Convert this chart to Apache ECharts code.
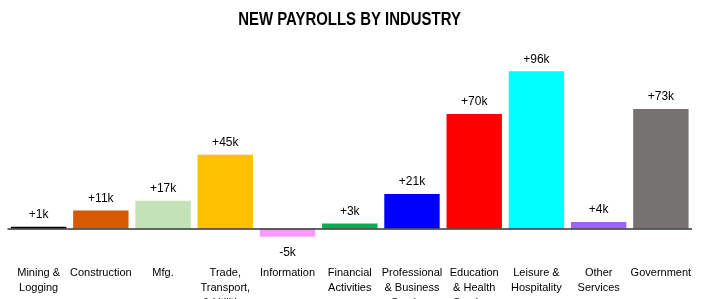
<!DOCTYPE html>
<html>
<head>
<meta charset="utf-8">
<script src="https://cdn.jsdelivr.net/npm/echarts@6/dist/echarts.min.js"></script>
<style>html,body{margin:0;padding:0;background:#fff}#c{width:718px;height:299px}</style>
</head>
<body>
<div id="c"></div>
<script>
const categories = ["Mining &\nLogging","Construction","Mfg.","Trade,\nTransport,\n& Utilities","Information","Financial\nActivities","Professional\n& Business\nServices","Education\n& Health\nServices","Leisure &\nHospitality","Other\nServices","Government"];
const values = [1, 11, 17, 45, -5, 3, 21, 70, 96, 4, 73];
const colors = ["#000000","#D55A00","#C3E2B8","#FFC000","#FF99FF","#00B050","#0000FF","#FF0000","#00FFFF","#9F62FF","#767171"];
const FONT = '"Liberation Sans", Arial, sans-serif';

const chart = echarts.init(document.getElementById('c'), null, {renderer: 'canvas'});
chart.setOption({
  animation: false,
  graphic: [{
    type: 'text', x: 349.5, y: 20.5, scaleX: 0.83,
    style: {text: 'NEW PAYROLLS BY INDUSTRY', fontFamily: FONT, fontWeight: 'bold', fontSize: 18,
            fill: '#000', align: 'center', verticalAlign: 'middle'}
  }],
  grid: {left: 7.5, right: 26, top: 64.8, bottom: 50.9, containLabel: false, outerBoundsMode: 'none'},
  xAxis: {
    type: 'category', data: categories,
    axisLine: {show: false, onZero: false}, axisTick: {show: false},
    axisLabel: {interval: 0, margin: 17, fontFamily: FONT, fontSize: 11, lineHeight: 15, color: '#000', verticalAlign: 'top'}
  },
  yAxis: {type: 'value', min: -12, max: 100, show: false, splitLine: {show: false}},
  series: [{
    type: 'bar',
    barCategoryGap: '11%',
    data: values.map((v, i) => ({
      value: v,
      itemStyle: {color: colors[i]},
      label: {position: v < 0 ? 'bottom' : 'top', distance: v < 0 ? 10 : 6}
    })),
    label: {
      show: true, fontFamily: FONT, fontSize: 12, color: '#000',
      formatter: p => (p.value > 0 ? '+' : '') + p.value + 'k'
    },
    markLine: {
      silent: true, symbol: 'none', label: {show: false},
      lineStyle: {color: '#333', width: 1.5, type: 'solid'},
      data: [{yAxis: 0}]
    }
  }]
});
</script>
</body>
</html>
